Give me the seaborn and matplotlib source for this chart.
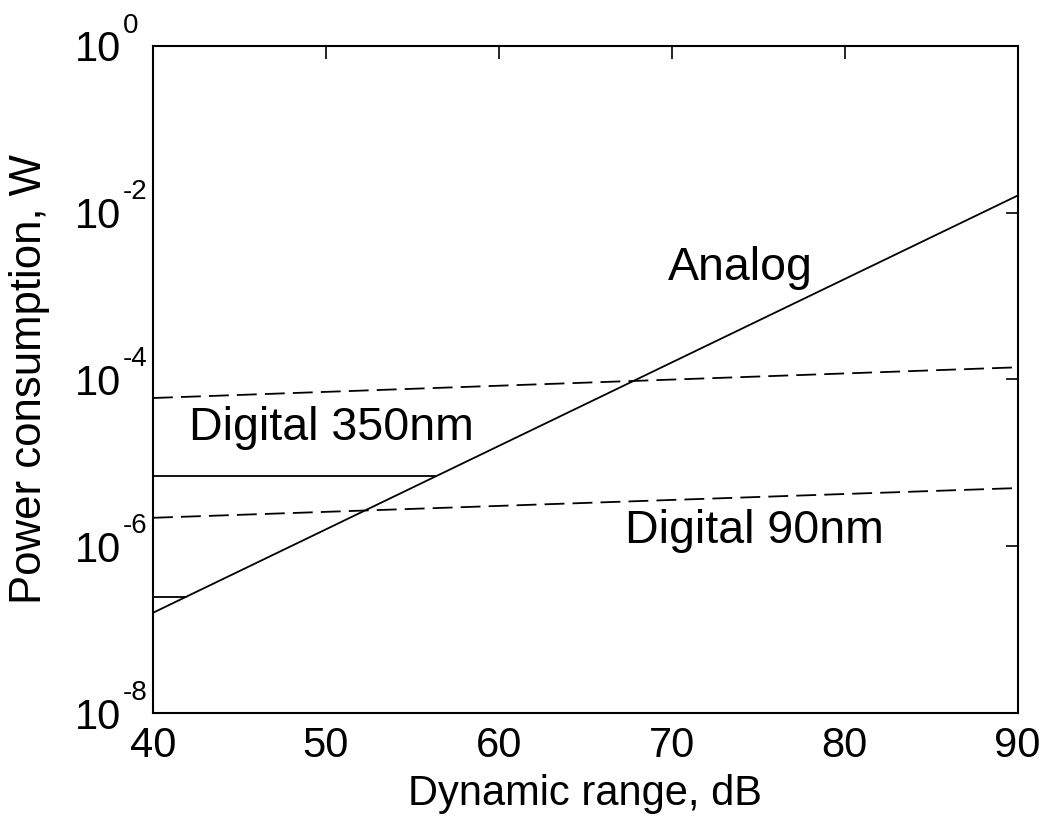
import numpy as np
import pandas as pd
import matplotlib
matplotlib.use("Agg")
import matplotlib.pyplot as plt
import matplotlib.ticker as mticker
import matplotlib.transforms as mtransforms
import seaborn as sns

# Dynamic range endpoints [dB]
dr = [40, 90]

# Power consumption [W] at the endpoints
analog = [1.6e-7, 1.6e-2]
digital_350 = [6.0e-5, 1.4e-4]
digital_90 = [2.2e-6, 5.0e-6]

# Horizontal reference segments (start, end where they meet the analog line)
ref_hi_x = [40, 56.3]
ref_hi_y = [6.9e-6, 6.9e-6]
ref_lo_x = [40, 41.9]
ref_lo_y = [2.5e-7, 2.5e-7]

# Curve labels
labels = ["Analog", "Digital 350nm", "Digital 90nm"]
label_x = [69.8, 42.1, 67.3]
label_y = [10 ** -2.66, 10 ** -4.58, 10 ** -5.82]

# Axis ticks
x_ticks = [40, 50, 60, 70, 80, 90]
y_exponents = [-8, -6, -4, -2, 0]

sns.set_theme(style="white")
plt.rcParams['font.family'] = ['Liberation Sans', 'DejaVu Sans']
for k in ['text.color', 'axes.labelcolor', 'xtick.color', 'ytick.color']:
    plt.rcParams[k] = 'black'

fig = plt.figure(figsize=(10.48, 8.17), dpi=100)
ax = fig.add_axes([0.146, 0.127, 0.825, 0.817])

dash = (0, (11, 4.5))
sns.lineplot(x=dr, y=analog, ax=ax, color='black', linewidth=1.3, estimator=None)
sns.lineplot(x=dr, y=digital_350, ax=ax, color='black', linewidth=1.3,
             linestyle=dash, estimator=None)
sns.lineplot(x=dr, y=digital_90, ax=ax, color='black', linewidth=1.3,
             linestyle=dash, estimator=None)
sns.lineplot(x=ref_hi_x, y=ref_hi_y, ax=ax, color='black', linewidth=1.3, estimator=None)
sns.lineplot(x=ref_lo_x, y=ref_lo_y, ax=ax, color='black', linewidth=1.3, estimator=None)

for t, tx, ty in zip(labels, label_x, label_y):
    ax.text(tx, ty, t, fontsize=33.5, ha='left', va='center')

ax.set_yscale('log')
ax.set_xlim(40, 90)
ax.set_ylim(1e-8, 1e0)
ax.set_xticks(x_ticks)
y_ticks = [10.0 ** e for e in y_exponents]
ax.yaxis.set_major_locator(mticker.FixedLocator(y_ticks))
ax.yaxis.set_minor_locator(mticker.NullLocator())
# MATLAB-style "10" with a raised exponent drawn separately
ax.yaxis.set_major_formatter(mticker.FixedFormatter(["10"] * len(y_ticks)))

ax.tick_params(axis='both', which='major', direction='in', length=9, width=1.2,
               top=True, right=True, labelsize=30)
ax.tick_params(axis='x', pad=9)
ax.tick_params(axis='y', pad=23)

trans = mtransforms.blended_transform_factory(ax.transAxes, ax.transData)
for e, v in zip(y_exponents, y_ticks):
    ax.annotate(str(e), xy=(0, v), xycoords=trans,
                xytext=(-21.5, 9.5), textcoords='offset points',
                fontsize=20, ha='left', va='baseline', annotation_clip=False)

for s in ax.spines.values():
    s.set_color('black')
    s.set_linewidth(1.5)

ax.set_xlabel("Dynamic range, dB", fontsize=30, labelpad=6)
ax.set_ylabel("Power consumption, W", fontsize=31.5)
ax.yaxis.set_label_coords(-0.119, 0.5)

fig.savefig("out.png", dpi=100)
